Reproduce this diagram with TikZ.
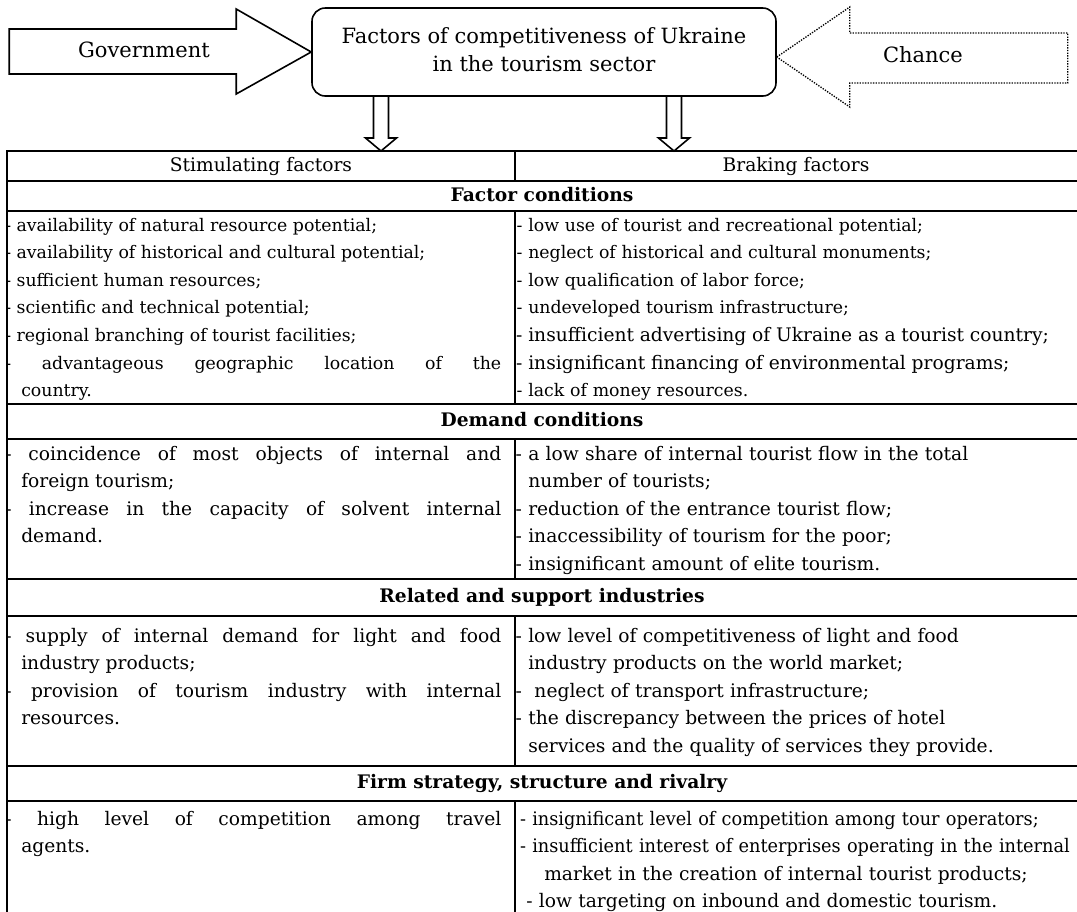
\documentclass[tikz,border=0pt]{standalone}
\usepackage{fontspec}
\setmainfont{DejaVu Serif}
\newfontfamily\narrowserif[FakeStretch=0.95]{DejaVu Serif}
\usetikzlibrary{calc}
\hyphenpenalty=10000
\exhyphenpenalty=10000
\tikzset{
    blockarrow/.style={draw, line width=1.2pt, fill=white},
    chancearrow/.style={draw, line width=1pt, dash pattern=on 1pt off 1pt},
    rule/.style={line width=1.5pt, line cap=rect},
    bodytext/.style={inner sep=0pt, font=\fontsize{14}{20.7}\selectfont},
    smalltext/.style={font=\fontsize{13}{20.7}\selectfont},
    lefttext/.style={bodytext, anchor=base west, text width=360pt, align=justify},
    righttext/.style={bodytext, anchor=base west, text width=420pt, align=left},
    sectiontitle/.style={inner sep=0pt, anchor=base, font=\fontsize{14}{16}\selectfont\bfseries},
    toptext/.style={inner sep=0pt, font=\fontsize{15.75}{20.6}\selectfont}
}
\newcommand{\ldash}{\hspace*{-12pt}-\ }
\newcommand{\rdash}{\leavevmode\llap{-\ }}

\begin{document}
\begin{tikzpicture}[x=0.75pt,y=-0.75pt]
    \useasboundingbox (0,0) rectangle (1077,911);
    \fill[white] (0,0) rectangle (1077,911);
    % central box and the forces acting on it
    \node[draw, rounded corners=10pt, line width=1.2pt, minimum width=348pt, minimum height=66pt,
          toptext, align=center] (core) at (544,52)
          {Factors of competitiveness of Ukraine\\in the tourism sector\vphantom{g}};
    \coordinate (govtip) at (core.west);
    \coordinate (chancetip) at ($(core.east)+(0,5)$);
    \draw[blockarrow] (govtip) -- ++(-75,-43) -- ++(0,20) -- ++(-227,0) -- ++(0,45)
        -- ++(227,0) -- ++(0,20) -- cycle;
    \draw[chancearrow] (chancetip) -- ++(73,-50) -- ++(0,26) -- ++(218,0) -- ++(0,50)
        -- ++(-218,0) -- ++(0,24) -- cycle;
    \node[toptext, anchor=base] (gov) at (144,57) {Government};
    \node[toptext, anchor=base] (chance) at (923,62) {Chance};
    \foreach \c in {381,674}
        \draw[blockarrow] (\c-7.5,96) -- (\c+7.5,96) -- (\c+7.5,138) -- (\c+15.5,138)
            -- (\c,151) -- (\c-15.5,138) -- (\c-7.5,138) -- cycle;

    % table rules
    \foreach \y in {150.5,180.6,210.7,404,439,579,615.5,766,801}
        \draw[rule] (7,\y) -- (1077,\y);
    \draw[rule] (7,150.5) -- (7,911);
    \foreach \a/\b in {150.5/180.6,210.7/404,439/579,615.5/766,801/911}
        \draw[rule] (515,\a) -- (515,\b);

    % headings
    \node[bodytext, anchor=base] (stimhead) at (261,171) {Stimulating factors};
    \node[bodytext, anchor=base] (brakehead) at (796,171) {Braking factors};
    \node[sectiontitle] (factorhead) at (542,201) {Factor conditions};
    \node[sectiontitle] (demandhead) at (542,426) {Demand conditions};
    \node[sectiontitle] (relatedhead) at (542,602) {Related and support industries};
    \node[sectiontitle] (firmhead) at (542,788) {Firm strategy, structure and rivalry};

    % factor conditions
    \node[lefttext, smalltext] (factorstim) at (21,231) {\ldash availability of natural resource potential;\\
        \ldash availability of historical and cultural potential;\\
        \ldash sufficient human resources;\\
        \ldash scientific and technical potential;\\
        \ldash regional branching of tourist facilities;\\
        \ldash advantageous geographic location of the\linebreak country.};
    \node[righttext, smalltext] (factorbrake) at (528,231) {\rdash low use of tourist and recreational potential;\\
        \rdash neglect of historical and cultural monuments;\\
        \rdash low qualification of labor force;\\
        \rdash undeveloped tourism infrastructure;\\
        {\fontsize{14}{20.7}\selectfont\rdash insufficient advertising of Ukraine as a tourist country;}\\
        {\fontsize{14}{20.7}\selectfont\rdash insignificant financing of environmental programs;}\\
        \rdash lack of money resources.};

    % demand conditions
    \node[lefttext] (demandstim) at (21,460) {\ldash coincidence of most objects of internal and\linebreak foreign tourism;\\
        \ldash increase in the capacity of solvent internal\linebreak demand.};
    \node[righttext] (demandbrake) at (528,460) {\rdash a low share of internal tourist flow in the total\\
        number of tourists;\\
        \rdash reduction of the entrance tourist flow;\\
        \rdash inaccessibility of tourism for the poor;\\
        \rdash insignificant amount of elite tourism.};

    % related and support industries
    \node[lefttext] (relatedstim) at (21,642) {\ldash supply of internal demand for light and food\linebreak industry products;\\
        \ldash provision of tourism industry with internal\linebreak resources.};
    \node[righttext] (relatedbrake) at (528,642) {\rdash low level of competitiveness of light and food\\
        industry products on the world market;\\
        \rdash\ neglect of transport infrastructure;\\
        \rdash the discrepancy between the prices of hotel\\
        services and the quality of services they provide.};

    % firm strategy
    \node[lefttext] (firmstim) at (21,825) {\ldash high level of competition among travel\linebreak agents.};
    \node[righttext] (firmbrake) at (528,825) {{\narrowserif\hspace*{3pt}\rdash insignificant level of competition among tour operators;}\\
        {\narrowserif\hspace*{3pt}\rdash insufficient interest of enterprises operating in the internal}\\
        \hspace*{12pt}market in the creation of internal tourist products;\\
        \hspace*{8pt}\rdash low targeting on inbound and domestic tourism.};
\end{tikzpicture}
\end{document}
